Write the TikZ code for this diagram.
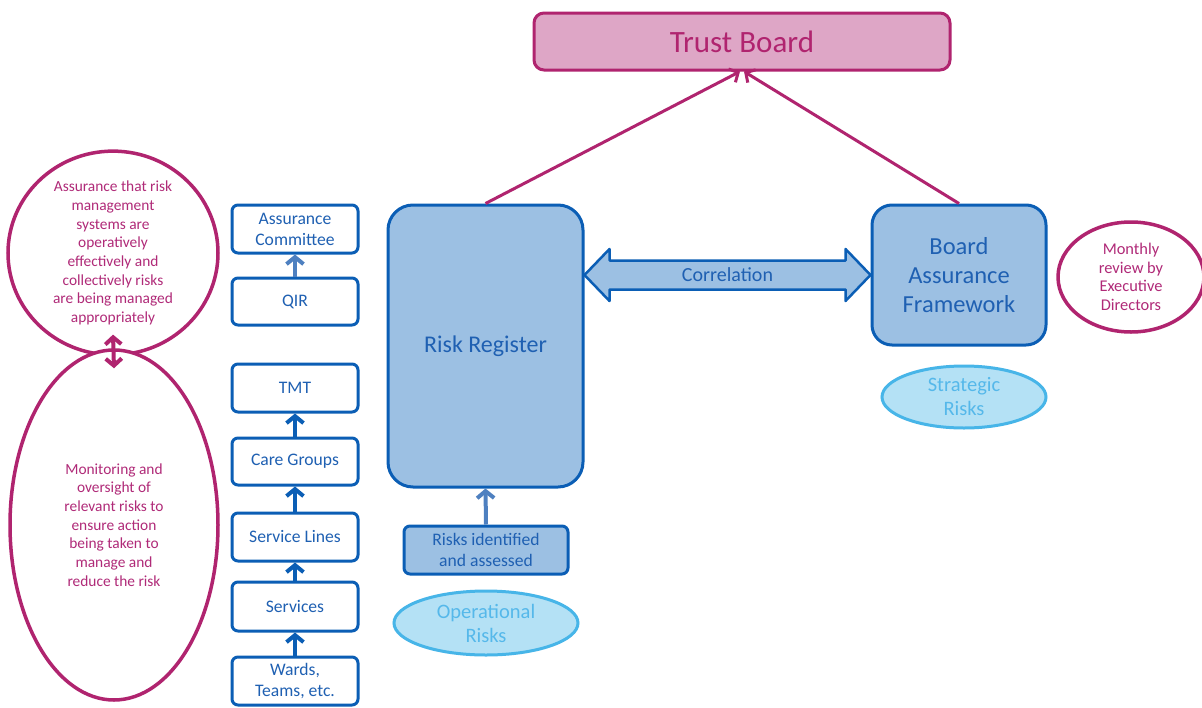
\documentclass[tikz,border=0pt]{standalone}
\usepackage{fontspec}
\setmainfont{Carlito}
\usetikzlibrary{shapes.geometric,arrows.meta,calc}

\definecolor{mag}{HTML}{B0246F}
\definecolor{magfill}{HTML}{DEA6C6}
\definecolor{magtext}{HTML}{B02A78}
\definecolor{bblue}{HTML}{0B5EB5}
\definecolor{btext}{HTML}{1F60B2}
\definecolor{lblue}{HTML}{9CC0E3}
\definecolor{softblue}{HTML}{4E80C0}
\definecolor{skyfill}{HTML}{B4E1F5}
\definecolor{skyline}{HTML}{47B5E8}
\definecolor{skytext}{HTML}{55B8EA}

\tikzset{
  levelbox/.style={draw=bblue, line width=3pt, fill=white, rounded corners=6pt,
    minimum width=126pt, minimum height=48pt, inner sep=0pt, align=center,
    text=btext, font=\fontsize{17.6}{21}\selectfont},
  bigbox/.style={draw=bblue, line width=3pt, fill=lblue, inner sep=0pt,
    align=center, text=btext},
  noteell/.style={ellipse, draw=mag, line width=3.5pt, fill=white, inner sep=0pt,
    align=center, text=magtext, font=\fontsize{15.4}{18.7}\selectfont},
  riskell/.style={ellipse, draw=skyline, line width=3pt, fill=skyfill, inner sep=0pt,
    align=center, text=skytext, font=\fontsize{20.5}{24}\selectfont},
  uplink/.style={draw=bblue, line width=4pt, -{Straight Barb[length=7pt,width=17pt]}},
  softlink/.style={draw=softblue, line width=4pt, -{Straight Barb[length=7pt,width=17pt]}},
  boardlink/.style={draw=mag, line width=3pt, -{Straight Barb[length=7pt,width=15pt]}},
  twoway/.style={draw=mag, line width=4pt, {Straight Barb[length=7pt,width=16pt]}-{Straight Barb[length=7pt,width=16pt]}},
  corrshape/.style={draw=bblue, line width=2.5pt, fill=lblue, line join=round}
}

\begin{document}
\begin{tikzpicture}[x=1pt,y=-1pt]
\useasboundingbox[fill=white] (0,0) rectangle (1202,707);

% top level
\node[bigbox, draw=mag, fill=magfill, text=mag, rounded corners=10pt,
  minimum width=416pt, minimum height=57pt, font=\fontsize{31}{34}\selectfont]
  (tb) at (742,41.5) {Trust Board};

% registers
\node[bigbox, rounded corners=25pt, minimum width=195pt, minimum height=282pt,
  font=\fontsize{24}{28}\selectfont] (rr) at (485.5,346) {Risk Register};
\node[bigbox, rounded corners=20pt, minimum width=174pt, minimum height=140pt,
  font=\fontsize{24.5}{29}\selectfont] (baf) at (959,275) {Board\\Assurance\\Framework};
\node[bigbox, rounded corners=6pt, minimum width=164pt, minimum height=48pt,
  font=\fontsize{17.6}{21}\selectfont] (ri) at (486,550) {Risks identified\\and assessed};

% risk types
\node[riskell, minimum width=164pt, minimum height=62pt] (sr) at (964,397) {Strategic\\Risks};
\node[riskell, minimum width=184pt, minimum height=64pt] (orisk) at (486,623) {Operational\\Risks};

% reporting chain
\node[levelbox] (ac)  at (295,229)   {Assurance\\Committee};
\node[levelbox, minimum height=47pt] (qir) at (295,301.5) {QIR};
\node[levelbox] (tmt) at (295,388)   {TMT};
\node[levelbox, minimum height=47pt] (cg)  at (295,461.5) {Care Groups};
\node[levelbox] (sl)  at (295,537)   {Service Lines};
\node[levelbox, minimum height=49pt] (sv)  at (295,606.5) {Services};
\node[levelbox] (wt)  at (295,681)   {Wards,\\Teams, etc.};

% notes
\node[noteell, minimum width=210pt, minimum height=190pt] (e1) at (113,253)
  {Assurance that risk\\management\\systems are\\operatively\\effectively and\\collectively risks\\are being managed\\appropriately};
\node[noteell, minimum width=208pt, minimum height=350pt] (e2) at (114,525)
  {Monitoring and\\oversight of\\relevant risks to\\ensure action\\being taken to\\manage and\\reduce the risk};
\node[noteell, minimum width=146pt, minimum height=110pt, font=\fontsize{16.4}{18.5}\selectfont]
  (mr) at (1131,277) {Monthly\\review by\\Executive\\Directors};

% connectors
\draw[softlink] (qir.north) -- (ac.south);
\draw[uplink] (cg.north) -- (tmt.south);
\draw[uplink] (sl.north) -- (cg.south);
\draw[uplink] (sv.north) -- (sl.south);
\draw[uplink] (wt.north) -- (sv.south);
\draw[softlink] (ri.north) -- (rr.south);
\draw[boardlink] (rr.north) -- ($(tb.south)+(-2,0)$);
\draw[boardlink] (baf.north) -- ($(tb.south)+(2,0)$);
\draw[twoway] ($(e1.south)+(0,-22)$) -- ($(e2.north)+(0,20)$);

% correlation arrow between the registers
\coordinate (corrline) at (0,275);
\coordinate (cl) at (rr.east |- corrline);
\coordinate (cr) at (baf.west |- corrline);
\draw[corrshape] (cl) -- ++(25,-26) -- ++(0,11.5) -- ($(cr)+(-25,-14.5)$) -- ++(0,-11.5)
  -- (cr) -- ++(-25,26) -- ++(0,-11.5) -- ($(cl)+(25,14.5)$) -- ++(0,11.5) -- cycle;
\node[text=btext, font=\fontsize{20}{22}\selectfont] (corr) at ($(cl)!0.5!(cr)$) {Correlation};
\end{tikzpicture}
\end{document}
